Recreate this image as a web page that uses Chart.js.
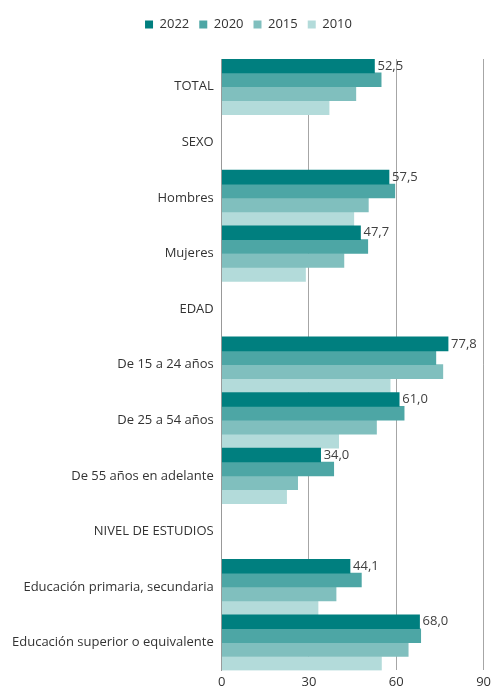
<!DOCTYPE html>
<html><head><meta charset="utf-8">
<script src="https://cdn.jsdelivr.net/npm/chart.js@4/dist/chart.umd.min.js"></script>
<style>html,body{margin:0;padding:0;background:#fff}#wrap{width:495px;height:689px}</style>
</head><body><div id="wrap"><canvas id="c"></canvas></div>
<script>
const categories = ["TOTAL","SEXO","Hombres","Mujeres","EDAD","De 15 a 24 años","De 25 a 54 años","De 55 años en adelante","NIVEL DE ESTUDIOS","Educación primaria, secundaria","Educación superior o equivalente"];
const years = ["2022","2020","2015","2010"];
const v2022 = [52.5,null,57.5,47.7,null,77.8,61.0,34.0,null,44.1,68.0];
const v2020 = [54.8,null,59.5,50.2,null,73.6,62.7,38.5,null,48.0,68.4];
const v2015 = [46.1,null,50.4,42.0,null,76.0,53.2,26.1,null,39.3,64.1];
const v2010 = [36.9,null,45.4,28.8,null,57.9,40.2,22.3,null,33.1,54.9];
const xTicks = [0,30,60,90];
const colors = ["#007f7f","#4da6a5","#80bfbe","#b3dbda"];
const FONT = "'Open Sans', sans-serif";

const labelPlugin = {
  id:'lbl',
  afterDatasetsDraw(chart){
    const ctx = chart.ctx;
    const meta = chart.getDatasetMeta(0);
    ctx.save();
    ctx.font = "13px " + FONT;
    ctx.fillStyle = "#404040";
    ctx.textAlign = "left";
    ctx.textBaseline = "middle";
    meta.data.forEach((el,i)=>{
      const v = v2022[i];
      if (v==null) return;
      ctx.fillText(v.toFixed(1).replace('.',','), el.x + 3, el.y);
    });
    ctx.restore();
  }
};
const legendGap = {
  id:'legendGap',
  beforeInit(chart){
    const orig = chart.legend.fit;
    chart.legend.fit = function(){ orig.call(this); this.height += 18; };
  }
};

new Chart(document.getElementById('c'), {
  type:'bar',
  data:{
    labels: categories,
    datasets:[v2022,v2020,v2015,v2010].map((d,i)=>({
      label: years[i], data: d, backgroundColor: colors[i],
      borderWidth: 0, barPercentage: 1, categoryPercentage: 1
    }))
  },
  options:{
    indexAxis:'y',
    responsive:true, maintainAspectRatio:false, animation:false,
    layout:{padding:{top:8,right:2,left:4,bottom:-5}},
    plugins:{
      legend:{position:'top', labels:{boxWidth:8, boxHeight:8, padding:10, color:'#333', font:{family:FONT,size:13}}},
      tooltip:{enabled:false}
    },
    scales:{
      x:{
        min:0,max:90, z:1,
        afterBuildTicks(s){ s.ticks = xTicks.map(v=>({value:v})); },
        grid:{color:'rgba(0,0,0,0.35)', lineWidth:1, drawTicks:false},
        border:{display:false},
        ticks:{color:'#333', padding:4, font:{family:FONT,size:13}}
      },
      y:{
        grid:{display:false, drawTicks:false},
        border:{display:true,color:'#999',width:1},
        ticks:{color:'#333', padding:8, font:{family:FONT,size:13}}
      }
    }
  },
  plugins:[labelPlugin, legendGap]
});
</script></body></html>
